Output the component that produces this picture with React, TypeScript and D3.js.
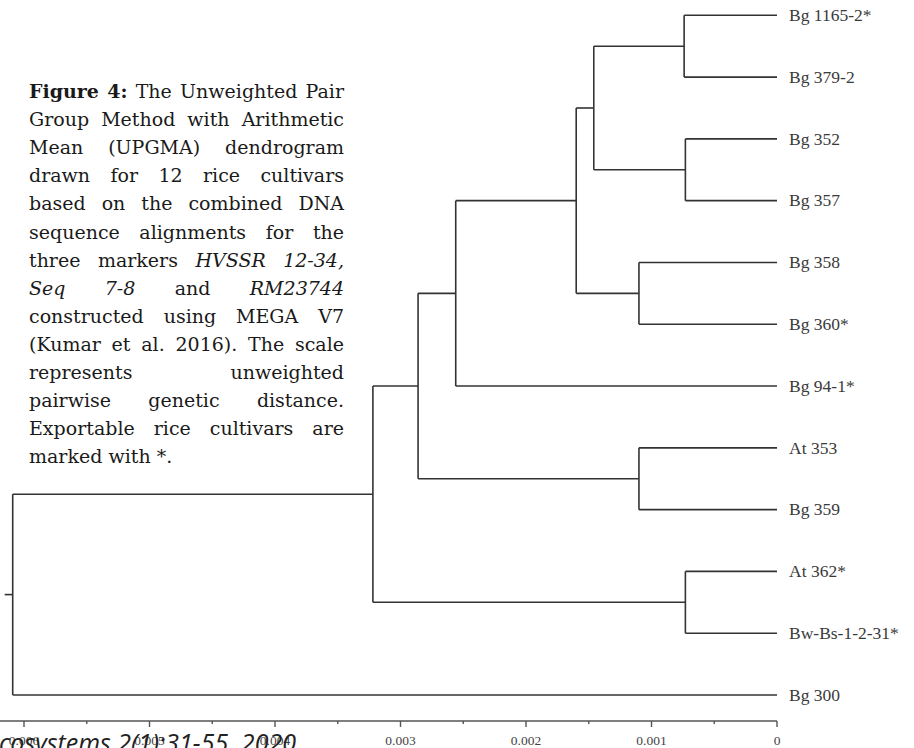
import React, { useEffect, useRef } from "react";
import * as d3 from "d3";

// ---------- data ----------
const leafNames = [
  "Bg 1165-2*", "Bg 379-2", "Bg 352", "Bg 357", "Bg 358", "Bg 360*",
  "Bg 94-1*", "At 353", "Bg 359", "At 362*", "Bw-Bs-1-2-31*", "Bg 300",
];
const nodeIds = ["A", "B", "C", "D", "E", "F", "G", "H", "I", "J", "root"];
const nodeChildren = [
  ["Bg 1165-2*", "Bg 379-2"],
  ["Bg 352", "Bg 357"],
  ["A", "B"],
  ["Bg 358", "Bg 360*"],
  ["C", "D"],
  ["E", "Bg 94-1*"],
  ["At 353", "Bg 359"],
  ["F", "G"],
  ["At 362*", "Bw-Bs-1-2-31*"],
  ["H", "I"],
  ["J", "Bg 300"],
];
const nodeHeights = [0.00074, 0.00073, 0.00146, 0.0011, 0.0016, 0.00256, 0.0011, 0.00286, 0.00073, 0.00322, 0.00609];

const majorTicks = [0, 0.001, 0.002, 0.003, 0.004, 0.005, 0.006];
const majorTickLabels = ["0", "0.001", "0.002", "0.003", "0.004", "0.005", "0.006"];
const minorTicks = [0.0005, 0.0015, 0.0025, 0.0035, 0.0045, 0.0055];

// caption lines: segments [text, style]  (b = bold, i = italic, n = normal)
const captionLines: [string, string][][] = [
  [["Figure 4:", "b"], ["The Unweighted Pair", "n"]],
  [["Group Method with Arithmetic", "n"]],
  [["Mean (UPGMA) dendrogram", "n"]],
  [["drawn for 12 rice cultivars", "n"]],
  [["based on the combined DNA", "n"]],
  [["sequence alignments for the", "n"]],
  [["three markers", "n"], ["HVSSR 12-34,", "i"]],
  [["Seq 7-8", "i"], ["and", "n"], ["RM23744", "i"]],
  [["constructed using MEGA V7", "n"]],
  [["(Kumar et al. 2016). The scale", "n"]],
  [["represents unweighted", "n"]],
  [["pairwise genetic distance.", "n"]],
  [["Exportable rice cultivars are", "n"]],
  [["marked with *.", "n"]],
];
const footerText = "cosystems 2(1):31-55, 2020";

export default function App() {
  const ref = useRef<SVGSVGElement | null>(null);

  useEffect(() => {
    const svg = d3.select(ref.current);
    svg.selectAll("*").remove();

    const x = d3.scaleLinear().domain([0, 0.006]).range([777, 24]);
    const y = d3.scalePoint<string>().domain(leafNames).range([15.3, 695]);

    // build hierarchy
    const heightOf: Record<string, number> = {};
    const kids: Record<string, string[]> = {};
    nodeIds.forEach((id, i) => {
      heightOf[id] = nodeHeights[i];
      kids[id] = nodeChildren[i];
    });
    leafNames.forEach((n) => (heightOf[n] = 0));
    const root = d3.hierarchy<string>("root", (d) => kids[d]);
    const ypos = new Map<any, number>();
    root.eachAfter((n: any) => {
      if (!n.children) ypos.set(n, y(n.data)!);
      else ypos.set(n, d3.mean(n.children, (c: any) => ypos.get(c)!)!);
    });

    const tree = svg.append("g").attr("stroke", "#333").attr("stroke-width", 1.6).attr("fill", "none");
    root.each((n: any) => {
      if (!n.children) return;
      const nx = x(heightOf[n.data]);
      const ys = n.children.map((c: any) => ypos.get(c)!);
      tree.append("line").attr("x1", nx).attr("x2", nx).attr("y1", d3.min(ys)!).attr("y2", d3.max(ys)!);
      n.children.forEach((c: any) => {
        tree.append("line")
          .attr("x1", nx).attr("x2", x(heightOf[c.data]))
          .attr("y1", ypos.get(c)!).attr("y2", ypos.get(c)!);
      });
    });
    // root stub
    const rx = x(heightOf["root"]);
    tree.append("line").attr("x1", rx - 8).attr("x2", rx).attr("y1", ypos.get(root)!).attr("y2", ypos.get(root)!);

    // leaf labels
    svg.append("g")
      .selectAll("text")
      .data(leafNames)
      .join("text")
      .attr("x", x(0) + 12)
      .attr("y", (d) => y(d)!)
      .attr("dy", "0.33em")
      .attr("font-family", "'Liberation Serif', 'Times New Roman', serif")
      .attr("font-size", 17.5)
      .attr("fill", "#3a3a3a")
      .text((d) => d);

    // axis
    const axisY = 721;
    const ax = svg.append("g").attr("stroke", "#555").attr("stroke-width", 1.4);
    ax.append("line").attr("x1", 0).attr("x2", x(0)).attr("y1", axisY).attr("y2", axisY);
    ax.selectAll("line.major").data(majorTicks).join("line").attr("class", "major")
      .attr("x1", (d) => x(d)).attr("x2", (d) => x(d)).attr("y1", axisY).attr("y2", axisY + 6);
    ax.selectAll("line.minor").data(minorTicks).join("line").attr("class", "minor")
      .attr("x1", (d) => x(d)).attr("x2", (d) => x(d)).attr("y1", axisY).attr("y2", axisY + 3);
    svg.append("g")
      .selectAll("text")
      .data(majorTicks)
      .join("text")
      .attr("x", (d) => x(d))
      .attr("y", 745)
      .attr("text-anchor", "middle")
      .attr("font-family", "'Liberation Serif', 'Times New Roman', serif")
      .attr("font-size", 13.5)
      .attr("fill", "#444")
      .text((d, i) => majorTickLabels[i]);

    // caption, justified
    const fs = 19;
    const capLeft = 29, capRight = 344, capTop = 98, lineH = 28.1;
    const cap = svg.append("g")
      .attr("font-family", "'DejaVu Serif', serif")
      .attr("font-size", fs)
      .attr("fill", "#1a1a1a");
    captionLines.forEach((segs, li) => {
      const words: { t: string; s: string }[] = [];
      segs.forEach(([t, s]) => t.split(" ").forEach((w) => words.push({ t: w, s })));
      const baseline = capTop + li * lineH;
      const els = words.map((w) =>
        cap.append("text")
          .attr("y", baseline)
          .attr("font-weight", w.s === "b" ? "bold" : "normal")
          .attr("font-style", w.s === "i" ? "italic" : "normal")
          .text(w.t)
      );
      const widths = els.map((e) => (e.node() as SVGTextElement).getComputedTextLength());
      const total = d3.sum(widths);
      const isLast = li === captionLines.length - 1;
      const gap = isLast || words.length < 2
        ? fs * 0.32
        : Math.max(3, (capRight - capLeft - total) / (words.length - 1));
      let cx = capLeft;
      els.forEach((e, i) => {
        e.attr("x", cx);
        cx += widths[i] + gap;
      });
    });

    // footer (journal running footer, cut at page edge)
    svg.append("text")
      .attr("x", -1)
      .attr("y", 752)
      .attr("font-family", "'Open Sans', sans-serif")
      .attr("font-style", "italic")
      .attr("font-size", 25)
      .attr("fill", "#222")
      .text(footerText);
  }, []);

  return (
    <svg
      ref={ref}
      width={914}
      height={748}
      style={{ position: "absolute", left: 0, top: 0, background: "#fff" }}
    />
  );
}
